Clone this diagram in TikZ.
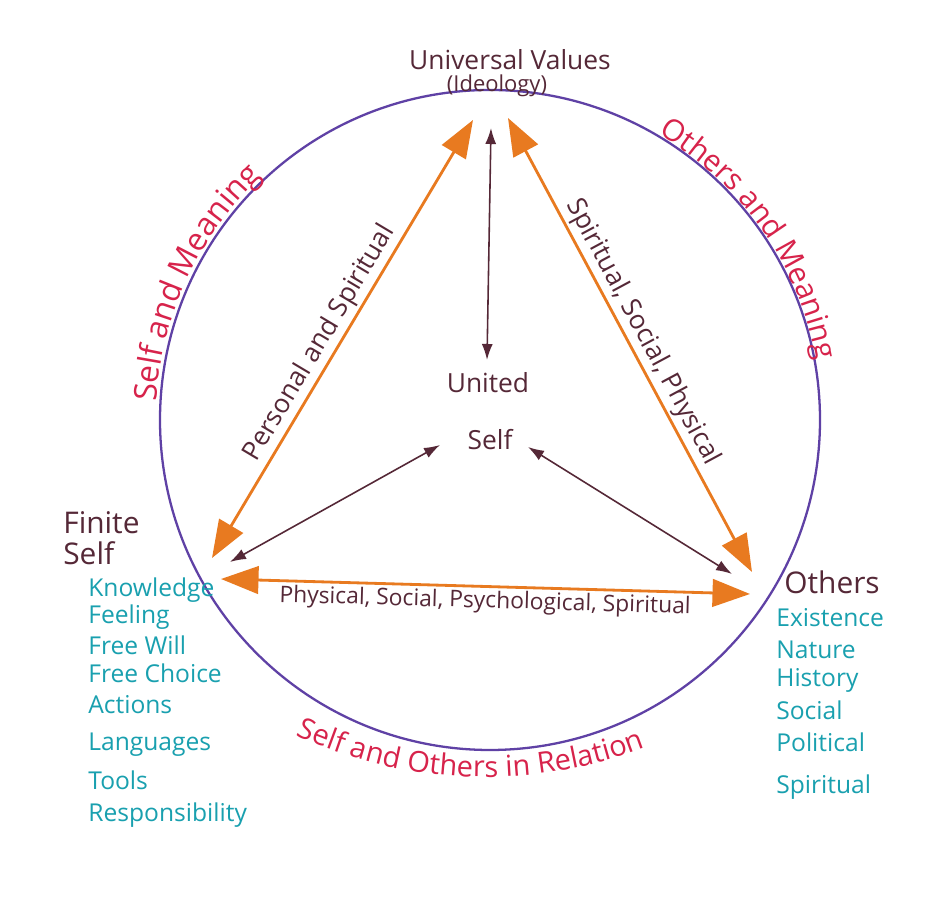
\documentclass[tikz,border=0pt]{standalone}
\usepackage{fontspec}
\setmainfont{Open Sans}
\usetikzlibrary{arrows.meta,decorations.text}
\definecolor{ringc}{RGB}{95,65,165}
\definecolor{pathc}{RGB}{232,122,32}
\definecolor{inkc}{RGB}{85,40,55}
\definecolor{arcc}{RGB}{215,35,75}
\definecolor{listc}{RGB}{25,160,175}
\tikzset{
  ring/.style={ringc, line width=1.3pt},
  bond/.style={pathc, line width=1.6pt, >={Triangle[length=0.75cm,width=0.55cm]}, <->},
  link/.style={inkc, line width=0.9pt, >={Latex[length=0.32cm,width=0.22cm]}, <->},
  title/.style={inkc, inner sep=0pt, font=\fontsize{15}{18}\selectfont},
  corner/.style={inkc, inner sep=0pt, anchor=west, font=\fontsize{17}{20}\selectfont},
  edgelabel/.style={inkc, inner sep=1.5pt, font=\fontsize{15}{18}\selectfont},
  item/.style={listc, inner sep=0pt, anchor=west, font=\fontsize{14}{17}\selectfont},
}
\begin{document}
\begin{tikzpicture}[x=0.02cm, y=0.02cm]
  \useasboundingbox[fill=white] (0,0) rectangle (937,919);
  \coordinate (centre) at (490,499);
  \coordinate (lowcentre) at (485,592);
  \coordinate (topL) at (473,799);
  \coordinate (topR) at (508,801);
  \coordinate (topM) at (491,791);
  \coordinate (finA) at (212,361);
  \coordinate (finB) at (230,357);
  \coordinate (finC) at (221,340);
  \coordinate (othA) at (752,347);
  \coordinate (othB) at (732,345);
  \coordinate (othC) at (750,325);
  \coordinate (uniT) at (487,559);
  \coordinate (uniL) at (440,474);
  \coordinate (uniR) at (528,472);

  \draw[ring] (centre) circle (330);

  \draw[bond] (finA) -- node[edgelabel, sloped, above, pos=0.47] {Personal and Spiritual} (topL);
  \draw[bond] (topR) -- node[edgelabel, sloped, above, pos=0.49] {Spiritual, Social, Physical} (othA);
  \draw[bond] (finC) -- node[edgelabel, sloped, below, font=\fontsize{13}{16}\selectfont] {Physical, Social, Psychological, Spiritual} (othC);
  \draw[link] (topM) -- (uniT);
  \draw[link] (finB) -- (uniL);
  \draw[link] (uniR) -- (othB);

  \node[title] (values) at (510,859) {Universal Values};
  \node[inkc, inner sep=0pt, font=\fontsize{12.5}{14}\selectfont] (ideology) at (497,833) {(Ideology)};
  \node[title] (united) at (488,536) {United};
  \node[title] (uself) at (490,479) {Self};
  \node[corner] (finite) at (63,396) {Finite};
  \node[corner] (fself) at (63,366) {Self};
  \node[corner] (others) at (784,337) {Others};

  \foreach \t/\y [count=\i] in {Knowledge/329, Feeling/302, Free Will/274, Free Choice/246,
      Actions/214, Languages/174, Tools/139, Responsibility/104}
    \node[item] (fs-\i) at (88,\y) {\t};
  \foreach \t/\y [count=\i] in {Existence/301, Nature/269, History/239, Social/209,
      Political/177, Spiritual/132}
    \node[item] (ot-\i) at (776,\y) {\t};

  \path[decorate, decoration={text along path, text align=center,
      text={|\color{arcc}\fontsize{18}{21}\selectfont|Self and Meaning}}]
    (centre) ++(185:334) arc (185:125:334);
  \path[decorate, decoration={text along path, text align=center,
      text={|\color{arcc}\fontsize{17}{20}\selectfont|Others and Meaning}}]
    (centre) ++(69:332) arc (69:1:332);
  \path[decorate, decoration={text along path, text align=center,
      text={|\color{arcc}\fontsize{16.5}{19}\selectfont|Self and Others in Relation}}]
    (lowcentre) ++(225:450) arc (225:311:450);
\end{tikzpicture}
\end{document}
